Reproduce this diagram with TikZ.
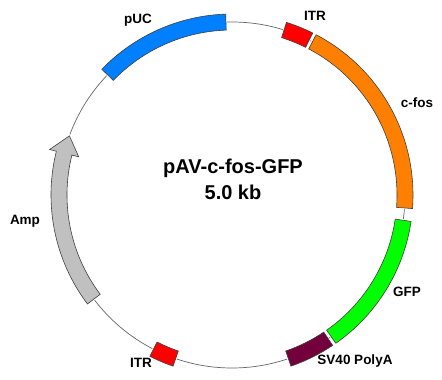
\documentclass[tikz,border=0pt]{standalone}
\usepackage{fontspec}
\setmainfont{Liberation Sans}
\definecolor{pucblue}{RGB}{0,128,255}
\definecolor{itrred}{RGB}{255,0,0}
\definecolor{fosorange}{RGB}{255,128,0}
\definecolor{gfpgreen}{RGB}{0,255,0}
\definecolor{svmaroon}{RGB}{115,0,60}
\definecolor{ampgray}{RGB}{192,192,192}
\newcommand{\featpath}[2]{(#1:165) arc[start angle=#1,end angle=#2,radius=165] -- (#2:181) arc[start angle=#2,end angle=#1,radius=181] -- cycle}
\newcommand{\feature}[3]{%
  \draw[white, line width=2.4pt] \featpath{#1}{#2};
  \filldraw[fill=#3, draw=black!75, line width=0.6pt] \featpath{#1}{#2};}
\tikzset{
  lbl/.style={font=\fontsize{13.5}{16}\selectfont\bfseries, text=black, inner sep=0pt},
  ttl/.style={font=\fontsize{20}{24}\selectfont\bfseries, text=black, inner sep=0pt},
  backbone/.style={draw=black!60, line width=0.7pt}
}
\begin{document}
\begin{tikzpicture}[x=1pt,y=1pt]
\useasboundingbox (0,0) rectangle (442,-380);
\fill[white] (0,0) rectangle (442,-380);
\coordinate (C) at (232,-195);
\begin{scope}[shift={(C)}]
  \draw[backbone] (0,0) circle (173);
  \feature{92}{136}{pucblue}
  \feature{63.5}{72.5}{itrred}
  \feature{-4.3}{62.3}{fosorange}
  \feature{-55}{-8.4}{gfpgreen}
  \feature{-71}{-56.2}{svmaroon}
  \feature{-117}{-109}{itrred}
  \draw[white, line width=2.4pt] (217:165) arc[start angle=217,end angle=166,radius=165] -- (166:158) -- (160:173) -- (166:188) -- (166:181) arc[start angle=166,end angle=217,radius=181] -- cycle;
  \filldraw[fill=ampgray, draw=black!75, line width=0.6pt] (217:165) arc[start angle=217,end angle=166,radius=165] -- (166:158) -- (160:173) -- (166:188) -- (166:181) arc[start angle=166,end angle=217,radius=181] -- cycle;
\end{scope}
\node[lbl] (puc) at (138,-20) {pUC};
\node[lbl] (itr1) at (315,-16) {ITR};
\node[lbl] (cfos) at (417,-103) {c-fos};
\node[lbl] (gfp) at (407,-292) {GFP};
\node[lbl] (sv40) at (355,-361) {SV40 PolyA};
\node[lbl] (itr2) at (141,-363) {ITR};
\node[lbl] (amp) at (25,-221) {Amp};
\node[ttl] (title) at (233,-168) {pAV-c-fos-GFP};
\node[ttl] (size) at (233,-192) {5.0 kb};
\end{tikzpicture}
\end{document}
